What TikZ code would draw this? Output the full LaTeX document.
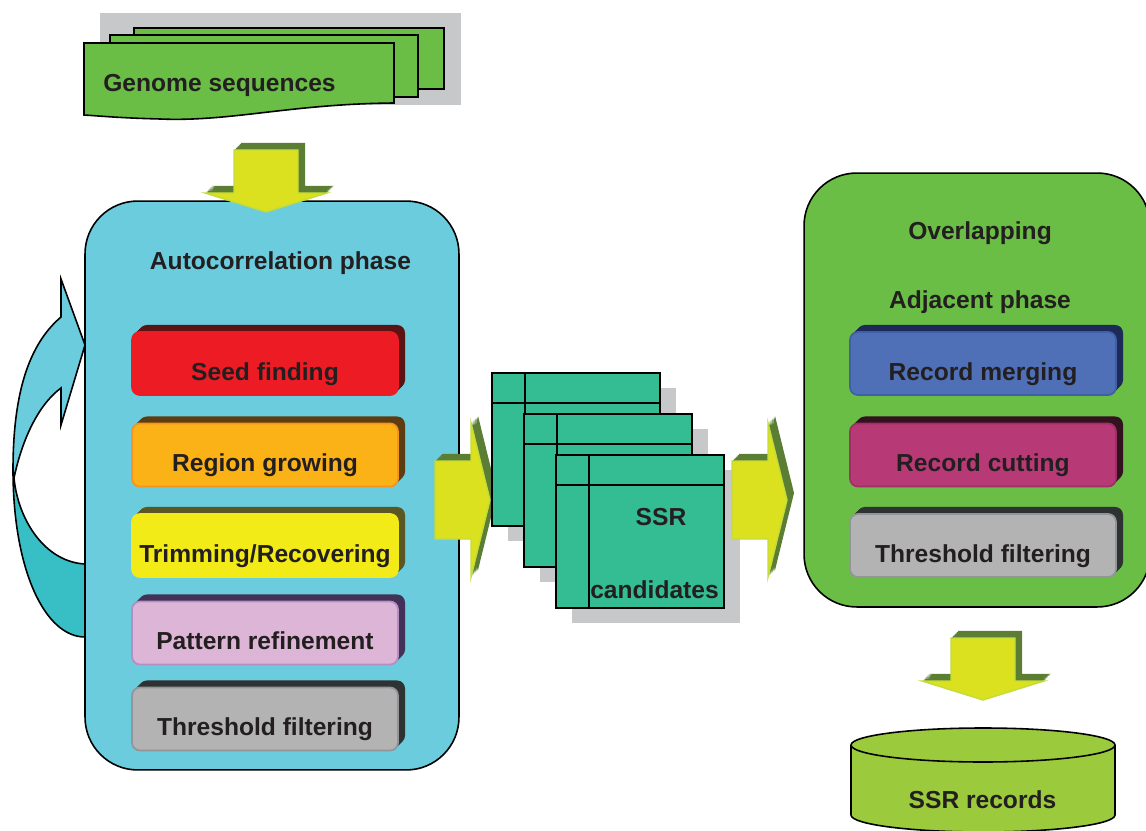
\documentclass[tikz,border=0pt]{standalone}
\usepackage{fontspec}
\setmainfont{Liberation Sans}
\usetikzlibrary{shadows}

\definecolor{txtgray}{HTML}{231F20}
\definecolor{phasecyan}{HTML}{6ACCDC}
\definecolor{loopteal}{HTML}{37BFC5}
\definecolor{phasegreen}{HTML}{6ABD45}
\definecolor{sheetgreen}{HTML}{34BC92}
\definecolor{dbgreen}{HTML}{9BCA3C}
\definecolor{shadegray}{HTML}{C7C8CA}
\definecolor{arrowyellow}{HTML}{DCE11F}
\definecolor{arrowedge}{HTML}{C2DC3A}
\definecolor{arrowdark}{HTML}{5C7E34}
\definecolor{seedred}{HTML}{ED1C24}
\definecolor{seeddark}{HTML}{5B1313}
\definecolor{groworange}{HTML}{FBB217}
\definecolor{growedge}{HTML}{F7941E}
\definecolor{growdark}{HTML}{5E3C12}
\definecolor{trimyellow}{HTML}{F2EB17}
\definecolor{trimdark}{HTML}{5A5722}
\definecolor{patlilac}{HTML}{DDB6D7}
\definecolor{patedge}{HTML}{B58FC4}
\definecolor{patdark}{HTML}{433257}
\definecolor{thrgray}{HTML}{B3B3B3}
\definecolor{thredge}{HTML}{939598}
\definecolor{thrdark}{HTML}{2F3233}
\definecolor{mergeblue}{HTML}{4F6FB7}
\definecolor{mergeedge}{HTML}{3F5FA8}
\definecolor{mergedark}{HTML}{1D2957}
\definecolor{cutpink}{HTML}{B73A76}
\definecolor{cutedge}{HTML}{9E3065}
\definecolor{cutdark}{HTML}{32121F}

\tikzset{
	txt/.style={font=\bfseries\fontsize{14}{16}\selectfont, text=txtgray, inner sep=0pt},
	extrude/.style={general shadow={fill=#1, shadow xshift=0.5pt, shadow yshift=0.5pt},
		general shadow={fill=#1, shadow xshift=1pt, shadow yshift=1pt},
		general shadow={fill=#1, shadow xshift=1.5pt, shadow yshift=1.5pt},
		general shadow={fill=#1, shadow xshift=2pt, shadow yshift=2pt},
		general shadow={fill=#1, shadow xshift=2.5pt, shadow yshift=2.5pt},
		general shadow={fill=#1, shadow xshift=3pt, shadow yshift=3pt},
		general shadow={fill=#1, shadow xshift=3.5pt, shadow yshift=3.5pt},
		general shadow={fill=#1, shadow xshift=4pt, shadow yshift=4pt}},
	stepbox/.style n args={3}{txt, fill=#1, draw=#2, line width=1pt, rounded corners=4.5pt,
		minimum width=5.32cm, minimum height=1.26cm, text height=19pt, text depth=0pt, extrude=#3},
	phase/.style={draw=black, line width=0.9pt, rounded corners=30pt},
	downarrow/.pic={\fill[arrowyellow, draw=arrowedge, line width=0.8pt, extrude=arrowdark]
		(-32,-62) -- (32,-62) -- (32,-19) -- (61,-19) -- (0,0) -- (-61,-19) -- (-32,-19) -- cycle;},
	rightarrow/.pic={\fill[arrowyellow, draw=arrowedge, line width=0.8pt, extrude=arrowdark]
		(-55,-39) -- (-19,-39) -- (-19,-77) -- (0,0) -- (-19,77) -- (-19,39) -- (-55,39) -- cycle;}
}

\begin{document}
\begin{tikzpicture}[x=0.02cm, y=-0.02cm]
		\useasboundingbox (0,0) rectangle (1146,831);

		% input pages
		\fill[shadegray] (100,13) rectangle (461,105);
		\draw[fill=phasegreen, line width=0.9pt] (134,28) rectangle (444,89);
		\draw[fill=phasegreen, line width=0.9pt] (110,35) rectangle (418,97);
		\draw[fill=phasegreen, line width=0.9pt] (84,43) -- (394,43) -- (394,103)
		.. controls (290,104) and (230,122) .. (160,119) .. controls (120,118) and (100,116) .. (84,115) -- cycle;
		\node[txt, anchor=base] (genome) at (219.5,92) {Genome sequences};

		% loop arrow
		\draw[fill=loopteal, line width=0.9pt] (13,470) .. controls (13,570) and (45,637) .. (85,637) -- (85,564)
		.. controls (45,562) and (18,520) .. (14,478) -- cycle;
		\draw[fill=phasecyan, line width=0.9pt] (61,317) .. controls (28,345) and (13,395) .. (13,470) -- (14,478)
		.. controls (22,440) and (38,405) .. (61,388) -- (61,425) -- (85,345) -- (61,279) -- cycle;

		% autocorrelation phase
		\node[phase, fill=phasecyan, minimum width=7.48cm, minimum height=11.38cm] (auto) at (272,485.5) {};
		\node[txt, anchor=base] (autotitle) at (280.5,270) {Autocorrelation phase};
		\pic at (266,212) {downarrow};
		\node[stepbox={seedred}{seedred}{seeddark}] (seed) at (265,363.5) {Seed finding};
		\node[stepbox={groworange}{growedge}{growdark}] (grow) at (265,455) {Region growing};
		\node[stepbox={trimyellow}{trimyellow}{trimdark}] (trim) at (265,545.5) {Trimming/Recovering};
		\node[stepbox={patlilac}{patedge}{patdark}] (pattern) at (265,633) {Pattern refinement};
		\node[stepbox={thrgray}{thredge}{thrdark}] (thresh) at (265,719) {Threshold filtering};

		% candidates
		\pic at (490,500) {rightarrow};
		\foreach \sx/\sy in {492/373, 524/414, 556/455} {
			\fill[shadegray] (\sx+16,\sy+15) rectangle +(168,153);
			\draw[fill=sheetgreen, line width=0.9pt] (\sx,\sy) rectangle +(168,153);
			\draw[line width=0.9pt] (\sx+33,\sy) -- +(0,153) (\sx,\sy+30) -- +(168,0);
		}
		\node[txt, anchor=base] (ssr) at (661,525) {SSR};
		\node[txt, anchor=base] (cand) at (654.5,598) {candidates};
		\pic at (787,500) {rightarrow};

		% overlapping / adjacent phase
		\node[phase, fill=phasegreen, minimum width=6.92cm, minimum height=8.68cm] (adjacent) at (977,390) {};
		\node[txt, anchor=base] (overlap) at (980,240) {Overlapping};
		\node[txt, anchor=base] (adjtitle) at (980,308) {Adjacent phase};
		\node[stepbox={mergeblue}{mergeedge}{mergedark}] (merge) at (983,363.5) {Record merging};
		\node[stepbox={cutpink}{cutedge}{cutdark}] (cut) at (983,455) {Record cutting};
		\node[stepbox={thrgray}{thredge}{thrdark}] (thresh2) at (983,545.5) {Threshold filtering};

		% output records
		\pic at (983,700) {downarrow};
		\draw[fill=dbgreen, line width=0.9pt] (851,745) -- (851,815) .. controls (851,824.4) and (910.1,832) .. (983,832)
		.. controls (1055.9,832) and (1115,824.4) .. (1115,815) -- (1115,745);
		\draw[fill=dbgreen, line width=0.9pt] (983,745) ellipse [x radius=132, y radius=17];
		\node[txt, anchor=base] (records) at (982.5,808) {SSR records};
	\end{tikzpicture}
\end{document}
